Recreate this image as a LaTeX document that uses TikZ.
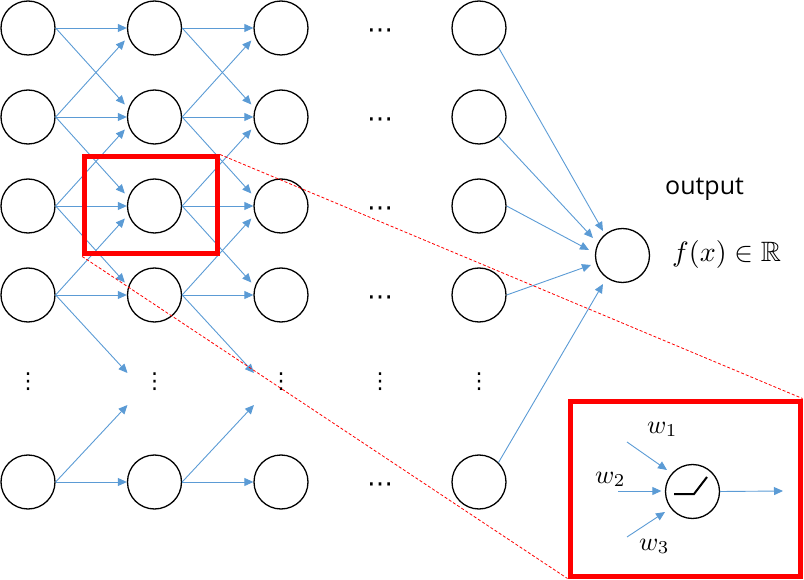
\documentclass[tikz,border=0pt]{standalone}
\usepackage{amssymb}
\usepackage{fontspec}
\newfontfamily\labelfont{Open Sans}
\newfontfamily\dotfont{DejaVu Sans}
\usetikzlibrary{arrows.meta,calc}
\definecolor{conn}{RGB}{91,155,213}
\begin{document}
\begin{tikzpicture}[x=1pt,y=-1pt,
  neuron/.style={circle,draw=black,line width=1.3pt,minimum size=54pt,inner sep=0pt},
  link/.style={draw=conn,line width=0.9pt,-{Triangle[length=9pt,width=8pt]}},
  hdotsnode/.style={inner sep=0pt,font=\dotfont\fontsize{26}{26}\selectfont},
  vdotsnode/.style={inner sep=0pt,font=\dotfont\fontsize{22}{22}\selectfont},
  zoombox/.style={draw=red,line width=5pt,inner sep=0pt},
  zoomline/.style={draw=red,line width=0.8pt,dash pattern=on 3pt off 2pt},
  mathlbl/.style={anchor=base west,inner sep=0pt},
]
\useasboundingbox (0,0) rectangle (804,580);

% neurons
\foreach \c/\x in {1/28,2/154.5,3/281,5/479}{
  \foreach \r/\y in {1/28,2/117,3/206,4/295,6/482}{
    \node[neuron] (n\c\r) at (\x,\y) {};
  }
  \node[vdotsnode] (d\c) at (\x,382) {⋮};
  \coordinate (g\c) at (\x,385);
}
\foreach \r/\y in {1/34,2/123,3/212,4/301,6/488}{
  \node[hdotsnode] (h\r) at (380,\y) {⋯};
}
\node[vdotsnode] (d4) at (380,382) {⋮};

% connections between first columns
\foreach \s/\t in {1/2,2/3}{
  \draw[link] (n\s1.east) -- (n\t1.west);
  \draw[link] (n\s1.east) -- ($(n\t2.west)+(-2,-12.5)$);
  \draw[link] (n\s2.east) -- ($(n\t1.west)+(-2,12.5)$);
  \draw[link] (n\s2.east) -- (n\t2.west);
  \draw[link] (n\s2.east) -- ($(n\t3.west)+(-2,-12.5)$);
  \draw[link] (n\s3.east) -- ($(n\t2.west)+(-2,12.5)$);
  \draw[link] (n\s3.east) -- (n\t3.west);
  \draw[link] (n\s3.east) -- ($(n\t4.west)+(-2,-12.5)$);
  \draw[link] (n\s4.east) -- ($(n\t3.west)+(-2,12.5)$);
  \draw[link] (n\s4.east) -- (n\t4.west);
  \draw[link] (n\s4.east) -- ($(g\t)+(-27,-12)$);
  \draw[link] (n\s6.east) -- ($(g\t)+(-27,20)$);
  \draw[link] (n\s6.east) -- (n\t6.west);
}

% output neuron
\node[neuron] (out) at (622.5,255.5) {};
\draw[link] (n51.-45) -- ($(out)+(-19.5,-24.5)$);
\draw[link] (n52.-45) -- ($(out)+(-29.5,-17.5)$);
\draw[link] (n53.east) -- ($(out)+(-33.5,-5.5)$);
\draw[link] (n54.east) -- ($(out)+(-31.5,9.5)$);
\draw[link] (n56.45) -- ($(out)+(-19.5,28.5)$);

\node[anchor=base west,inner sep=0pt,font=\labelfont\fontsize{25}{30}\selectfont] (outlbl) at (665,195) {output};
\node[mathlbl] (flbl) at (672,262) {\scalebox{2.8}{$f(x)\in\mathbb{R}$}};

% zoom boxes
\node[zoombox,minimum width=132.8pt,minimum height=97pt] (small) at (151.1,205.5) {};
\node[zoombox,minimum width=230pt,minimum height=175pt] (big) at (685,488.5) {};
\draw[zoomline] (small.north east) -- (big.north east);
\draw[zoomline] (small.south west) -- (big.south west);

% inset neuron
\node[neuron] (relu) at (692.5,491.5) {};
\draw[line width=2pt] ($(relu)+(-18.5,2.5)$) -- ($(relu)+(1.5,2.5)$) -- ($(relu)+(14.5,-14.5)$);
\coordinate (w1s) at (627,442);
\coordinate (w2s) at (618,491);
\coordinate (w3s) at (627,537);
\coordinate (os) at (783,491);
\draw[link] (w1s) -- ($(relu)+(-25.5,-21.5)$);
\draw[link] (w2s) -- ($(relu.west)+(-3.5,-0.5)$);
\draw[link] (w3s) -- ($(relu)+(-27.5,20.5)$);
\draw[link] (relu.east) -- (os);

\node[mathlbl] (w1) at (647,433) {\scalebox{2.6}{$w_1$}};
\node[mathlbl] (w2) at (595,483) {\scalebox{2.6}{$w_2$}};
\node[mathlbl] (w3) at (639,550) {\scalebox{2.6}{$w_3$}};
\end{tikzpicture}
\end{document}
